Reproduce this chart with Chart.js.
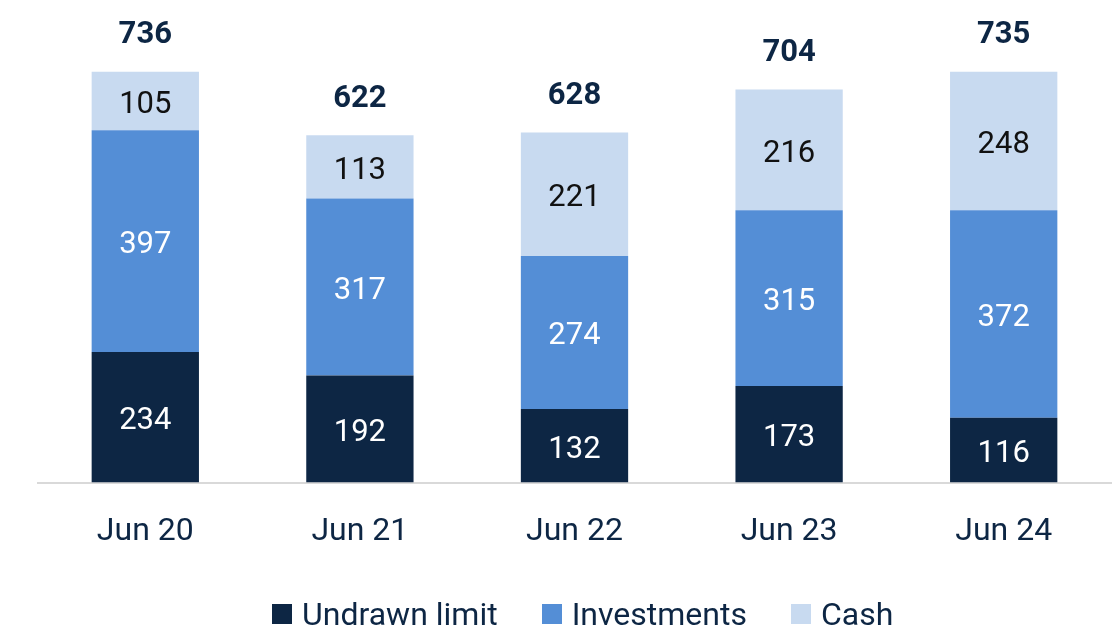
<!DOCTYPE html>
<html>
<head>
<meta charset="utf-8">
<script src="https://cdn.jsdelivr.net/npm/chart.js@4.4.1/dist/chart.umd.min.js"></script>
<style>
  html, body { margin:0; padding:0; background:#fff; }
  #wrap { position:relative; width:1116px; height:630px; }
  #legend { position:absolute; left:272px; right:0; top:596px; height:36px;
    display:flex; justify-content:flex-start; align-items:center; gap:44px;
    font-family:Roboto, sans-serif; font-size:32px; color:#0d2644; }
  .lg-item { display:flex; align-items:center; gap:10px; }
  .lg-box { width:20px; height:20px; display:inline-block; }
</style>
</head>
<body>
<div id="wrap">
  <canvas id="liquidity" width="1116" height="630"></canvas>
  <div id="legend"></div>
</div>
<script>
const periods     = ['Jun 20','Jun 21','Jun 22','Jun 23','Jun 24'];
const undrawn     = [234, 192, 132, 173, 116];
const investments = [397, 317, 274, 315, 372];
const cash        = [105, 113, 221, 216, 248];
const totals      = [736, 622, 628, 704, 735];

const SERIES = [
  { label:'Undrawn limit', data:undrawn,     color:'#0d2644', text:'#ffffff' },
  { label:'Investments',   data:investments, color:'#548ed6', text:'#ffffff' },
  { label:'Cash',          data:cash,        color:'#c8daf0', text:'#111111' },
];

const FONT = 'Roboto, sans-serif';

// value labels inside segments + bold totals on top
const labelPlugin = {
  id: 'segLabels',
  afterDatasetsDraw(chart) {
    const ctx = chart.ctx;
    ctx.save();
    ctx.textAlign = 'center';
    ctx.textBaseline = 'middle';
    chart.data.datasets.forEach((ds, di) => {
      const meta = chart.getDatasetMeta(di);
      ctx.font = '400 31px ' + FONT;
      ctx.fillStyle = SERIES[di].text;
      meta.data.forEach((bar, i) => {
        ctx.fillText(String(ds.data[i]), bar.x, (bar.y + bar.base) / 2 + 4);
      });
    });
    const top = chart.getDatasetMeta(chart.data.datasets.length - 1);
    ctx.font = '700 31px ' + FONT;
    ctx.fillStyle = '#0d2644';
    top.data.forEach((bar, i) => {
      ctx.fillText(String(totals[i]), bar.x, bar.y - 36);
    });
    ctx.restore();
  }
};

new Chart(document.getElementById('liquidity').getContext('2d'), {
  type: 'bar',
  data: {
    labels: periods,
    datasets: SERIES.map(s => ({
      label: s.label,
      data: s.data,
      backgroundColor: s.color,
      borderWidth: 0,
      categoryPercentage: 1,
      barPercentage: 0.5,
    }))
  },
  options: {
    responsive: false,
    animation: false,
    layout: { padding: { left: 38, right: 5, top: 36, bottom: 49 } },
    plugins: { legend: { display: false }, tooltip: { enabled: false } },
    scales: {
      x: {
        stacked: true,
        grid: { display: false, drawTicks: false },
        border: { display: true, color: '#d9d9d9', width: 2 },
        ticks: { color: '#0d2644', padding: 30, font: { family: FONT, size: 32 } }
      },
      y: { stacked: true, display: false, min: 0, max: 800 }
    }
  },
  plugins: [labelPlugin]
});

document.getElementById('legend').innerHTML = SERIES.map(s =>
  `<span class="lg-item"><span class="lg-box" style="background:${s.color}"></span>${s.label}</span>`
).join('');
</script>
</body>
</html>
